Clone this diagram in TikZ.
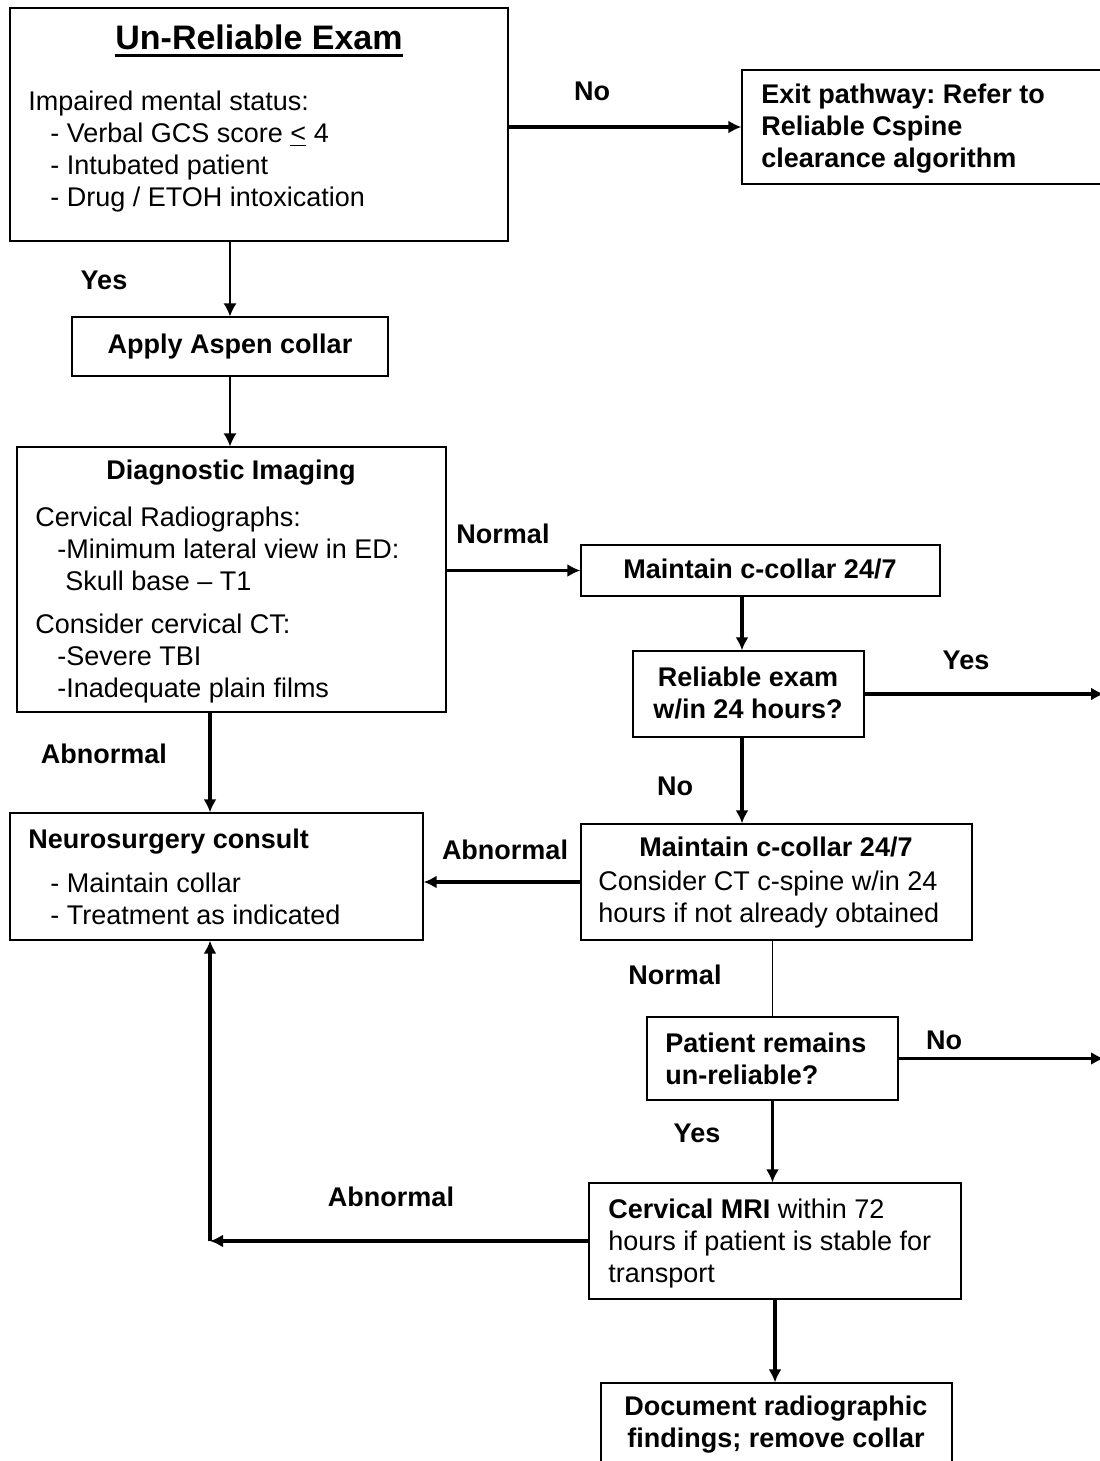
\documentclass[tikz,border=0pt]{standalone}
\usepackage{fontspec}
\setmainfont{Liberation Sans}
\frenchspacing
\newcommand{\thickul}[1]{\setbox0\hbox{#1}\rlap{\rule[-3.5pt]{\wd0}{1.5pt}}\box0}
\usetikzlibrary{fit,arrows.meta}
\tikzset{
  box/.style={draw, line width=0.6pt, inner sep=0pt},
  txt/.style={anchor=north west, inner sep=0pt, align=left, font=\fontsize{13.5}{16}\selectfont},
  btxt/.style={txt, font=\fontsize{13.5}{16}\selectfont\bfseries},
  lbl/.style={inner sep=0pt, font=\fontsize{13.5}{16}\selectfont\bfseries},
  arr/.style={->, line width=0.75pt},
  arrbold/.style={->, line width=1.6pt},
}
\begin{document}
\begin{tikzpicture}[x=0.5pt, y=-0.5pt, >={Latex[length=6.5pt,width=6.5pt]}]
        \useasboundingbox (0,0) rectangle (1099,1461);
        \node[box, fit={(10,8)(508,241)}] (top) {};
        \node[box, fit={(742,70)(1115,184)}] (exit) {};
        \node[box, fit={(72,317)(388,376)}] (apply) {};
        \node[box, fit={(17,447)(446,712)}] (diag) {};
        \node[box, fit={(581,545)(940,596)}] (maintA) {};
        \node[box, fit={(633,651)(864,737)}] (rel) {};
        \node[box, fit={(581,824)(972,940)}] (maintB) {};
        \node[box, fit={(10,813)(423,940)}] (neuro) {};
        \node[box, fit={(647,1017)(898,1100)}] (patient) {};
        \node[box, fit={(589,1183)(961,1299)}] (mri) {};
        \node[box, fit={(601,1383)(952,1475)}] (doc) {};
        \node[lbl, anchor=base, font=\fontsize{17}{20}\selectfont\bfseries] (title) at (259,50) {\thickul{Un-Reliable Exam}};
        \node[txt] (topt) at (28,90.5) {Impaired mental status:\\\hspace*{11pt}- Verbal GCS score \underline{<} 4\\\hspace*{11pt}- Intubated patient\\\hspace*{11pt}- Drug / ETOH intoxication};
        \node[btxt] (exitt) at (761,83.5) {Exit pathway: Refer to\\Reliable Cspine\\clearance algorithm};
        \node[lbl, anchor=base] (applyt) at (230,353) {Apply Aspen collar};
        \node[lbl, anchor=base] (diagt) at (231,479.5) {Diagnostic Imaging};
        \node[txt] (diaga) at (35,506.5) {Cervical Radiographs:\\\hspace*{11pt}-Minimum lateral view in ED:\\\hspace*{15pt}Skull base -- T1};
        \node[txt] (diagb) at (35,613.5) {Consider cervical CT:\\\hspace*{11pt}-Severe TBI\\\hspace*{11pt}-Inadequate plain films};
        \node[lbl, anchor=base] (maintAt) at (760,578.5) {Maintain c-collar 24/7};
        \node[btxt, anchor=north, align=center] (relt) at (748,666.5) {Reliable exam\\w/in 24 hours?};
        \node[lbl, anchor=base] (maintBt) at (776,856.5) {Maintain c-collar 24/7};
        \node[txt] (maintBs) at (598,870.5) {Consider CT c-spine w/in 24\\hours if not already obtained};
        \node[btxt] (neurot) at (28,828.5) {Neurosurgery consult};
        \node[txt] (neuros) at (50,872.5) {- Maintain collar\\- Treatment as indicated};
        \node[btxt] (patientt) at (665,1032.5) {Patient remains\\un-reliable?};
        \node[txt] (mrit) at (608,1198.5) {\textbf{Cervical MRI} within 72\\hours if patient is stable for\\transport};
        \node[btxt, anchor=north, align=center] (doct) at (776,1395.5) {Document radiographic\\findings; remove collar};
        \node[lbl] (noA) at (592,91) {No};
        \node[lbl] (yesA) at (104,280) {Yes};
        \node[lbl] (normA) at (503,534) {Normal};
        \node[lbl] (abnA) at (104,754) {Abnormal};
        \node[lbl] (yesB) at (966,660) {Yes};
        \node[lbl] (noB) at (675,786) {No};
        \node[lbl] (abnB) at (505,850) {Abnormal};
        \node[lbl] (normB) at (675,975) {Normal};
        \node[lbl] (noC) at (944,1040) {No};
        \node[lbl] (yesC) at (697,1133) {Yes};
        \node[lbl] (abnC) at (391,1197) {Abnormal};
        \coordinate (yesout) at (1104,694);
        \coordinate (noout) at (1104,1058.5);
        \coordinate (leftx) at (210,0);
        \coordinate (midx) at (742,0);
        \coordinate (corner) at (leftx |- mri.west);
        \draw[arrbold] (exit.west -| top.east) -- (exit.west);
        \draw[arr] (apply.north |- top.south) -- (apply.north);
        \draw[arr] (apply.south) -- (apply.south |- diag.north);
        \draw[arrbold] (diag.east |- maintA.west) -- (maintA.west);
        \draw[arrbold] (midx |- maintA.south) -- (midx |- rel.north);
        \draw[arrbold] (rel.east) -- (yesout);
        \draw[arrbold] (midx |- rel.south) -- (midx |- maintB.north);
        \draw[arrbold] (maintB.west) -- (maintB.west -| neuro.east);
        \draw[arrbold] (leftx |- diag.south) -- (leftx |- neuro.north);
        \draw[line width=0.6pt] (patient.north |- maintB.south) -- (patient.north);
        \draw[arrbold] (patient.east) -- (noout);
        \draw[arrbold] (patient.south) -- (patient.south |- mri.north);
        \draw[arrbold] (mri.west) -- (corner);
        \draw[arrbold] (corner) -- (leftx |- neuro.south);
        \draw[arrbold] (mri.south) -- (mri.south |- doc.north);
    \end{tikzpicture}
\end{document}
